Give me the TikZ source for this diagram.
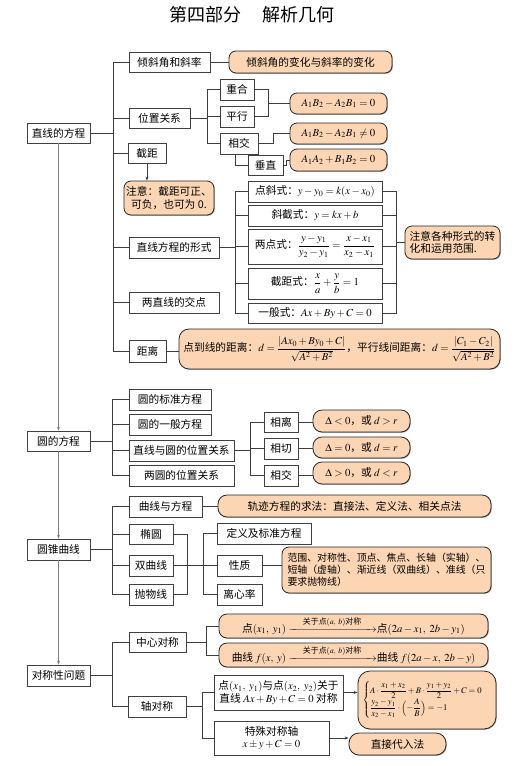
\documentclass[tikz,border=0pt]{standalone}
\usepackage{amsmath}
\usepackage{mathptmx}
\usepackage[no-math]{fontspec}
\setmainfont{Noto Sans CJK SC}
\usetikzlibrary{shadows,arrows.meta}
\definecolor{peach}{RGB}{252,213,180}
\definecolor{ln}{RGB}{60,60,60}
\begin{document}
\begin{tikzpicture}[x=1pt,y=-1pt,
 bx/.style={draw=black!75, line width=0.6pt, fill=white, inner sep=1pt,
   drop shadow={shadow xshift=0.9pt,shadow yshift=-0.9pt,fill=black!40,opacity=1},
   font=\fontsize{10.7}{12.5}\selectfont},
 rb/.style={draw=black!85, line width=0.8pt, fill=peach, rounded corners=7pt, inner sep=1pt,
   drop shadow={shadow xshift=0.8pt,shadow yshift=-0.8pt,fill=black!35,opacity=1},
   font=\fontsize{10.7}{12.5}\selectfont},
 conn/.style={draw=ln, line width=0.7pt},
 trunk/.style={draw=gray, line width=1.1pt, -{Stealth[length=4pt,width=3pt]}},
 arr/.style={conn, -{Stealth[length=4pt,width=3pt]}}
]
\useasboundingbox (0,0) rectangle (519,766);
\node[font=\fontsize{18}{20}\selectfont] (title) at (252,15) {第四部分\hspace{22pt}解析几何};

% ---------- section 1
\node[bx,minimum width=63pt,minimum height=20pt] (zxfc) at (58.5,133) {直线的方程};
\node[bx,minimum width=81pt,minimum height=20pt] (qxj) at (169.5,62) {倾斜角和斜率};
\node[rb,minimum width=163pt,minimum height=22pt] (qxjR) at (310.5,62) {倾斜角的变化与斜率的变化};
\node[bx,minimum width=61pt,minimum height=20pt] (wzgx) at (159.5,118) {位置关系};
\node[bx,minimum width=34pt,minimum height=21pt] (ch) at (237,89.5) {重合};
\node[bx,minimum width=34pt,minimum height=21pt] (px) at (237,116.5) {平行};
\node[bx,minimum width=38pt,minimum height=21pt] (xj) at (239,143.5) {相交};
\node[bx,minimum width=35pt,minimum height=20pt] (cz) at (265.5,165) {垂直};
\node[rb,minimum width=97pt,minimum height=21pt] (r1) at (338.5,103.5) {$A_1B_2-A_2B_1=0$};
\node[rb,minimum width=97pt,minimum height=21pt] (r2) at (338.5,133.5) {$A_1B_2-A_2B_1\neq 0$};
\node[rb,minimum width=97pt,minimum height=22pt] (r3) at (338.5,160) {$A_1A_2+B_1B_2=0$};
\node[bx,minimum width=38pt,minimum height=20pt] (jj) at (147,153) {截距};
\node[rb,minimum width=90pt,minimum height=34pt,align=center] (zy) at (169,198) {注意：截距可正、\\可负，也可为 0.};
\node[bx,minimum width=90pt,minimum height=21pt] (fs) at (174,247.5) {直线方程的形式};
\node[bx,minimum width=134pt,minimum height=21pt] (dxs) at (315,191.5) {点斜式：$y-y_0=k(x-x_0)$};
\node[bx,minimum width=134pt,minimum height=21pt] (xjs) at (315,215.5) {斜截式：$y=kx+b$};
\node[bx,minimum width=134pt,minimum height=35pt] (ldss) at (315,246.5) {两点式：$\dfrac{y-y_1}{y_2-y_1}=\dfrac{x-x_1}{x_2-x_1}$};
\node[bx,minimum width=134pt,minimum height=31pt] (jjs) at (315,283.5) {截距式：$\dfrac{x}{a}+\dfrac{y}{b}=1$};
\node[bx,minimum width=134pt,minimum height=20pt] (ybs) at (315,313) {一般式：$Ax+By+C=0$};
\node[rb,minimum width=95pt,minimum height=33pt,align=left] (gz) at (452.5,242.5) {注意各种形式的转\\化和运用范围.};
\node[bx,minimum width=90pt,minimum height=21pt] (jd) at (174,302.5) {两直线的交点};
\node[bx,minimum width=37pt,minimum height=22pt] (jl) at (147.5,351) {距离};
\node[rb,minimum width=321pt,minimum height=40pt,rounded corners=10pt] (jlR) at (339.5,349) {点到线的距离：$d=\dfrac{|Ax_0+By_0+C|}{\sqrt{A^2+B^2}}$，平行线间距离：$d=\dfrac{|C_1-C_2|}{\sqrt{A^2+B^2}}$};

% ---------- section 2
\node[bx,minimum width=63pt,minimum height=20pt] (yfc) at (58.5,441) {圆的方程};
\node[bx,minimum width=82pt,minimum height=21pt] (bz) at (170,399.5) {圆的标准方程};
\node[bx,minimum width=82pt,minimum height=21pt] (yb) at (170,424.5) {圆的一般方程};
\node[bx,minimum width=105pt,minimum height=21pt] (zxy) at (181.5,450.5) {直线与圆的位置关系};
\node[bx,minimum width=105pt,minimum height=21pt] (ly) at (181.5,475.5) {两圆的位置关系};
\node[bx,minimum width=34pt,minimum height=20pt] (xl) at (281,422) {相离};
\node[bx,minimum width=34pt,minimum height=21pt] (xq) at (281,448.5) {相切};
\node[bx,minimum width=34pt,minimum height=21pt] (xj2) at (281,475.5) {相交};
\node[rb,minimum width=97pt,minimum height=22pt,rounded corners=9pt] (d1) at (361.5,421) {$\Delta<0$，或 $d>r$};
\node[rb,minimum width=97pt,minimum height=21pt,rounded corners=9pt] (d2) at (361.5,447.5) {$\Delta=0$，或 $d=r$};
\node[rb,minimum width=97pt,minimum height=22pt,rounded corners=9pt] (d3) at (361.5,473) {$\Delta>0$，或 $d<r$};

% ---------- section 3
\node[bx,minimum width=63pt,minimum height=21pt] (yzqx) at (58.5,549.5) {圆锥曲线};
\node[bx,minimum width=73pt,minimum height=21pt] (qxfc) at (165.5,506.5) {曲线与方程};
\node[rb,minimum width=273pt,minimum height=22pt,rounded corners=9pt] (gj) at (354.5,506) {轨迹方程的求法：直接法、定义法、相关点法};
\node[bx,minimum width=44pt,minimum height=20pt] (ty) at (151,534) {椭圆};
\node[bx,minimum width=44pt,minimum height=21pt] (sqx) at (151,565.5) {双曲线};
\node[bx,minimum width=44pt,minimum height=21pt] (pwx) at (151,594.5) {抛物线};
\node[bx,minimum width=94pt,minimum height=21pt] (dy) at (264,533.5) {定义及标准方程};
\node[bx,minimum width=45pt,minimum height=21pt] (xz) at (239.5,565.5) {性质};
\node[bx,minimum width=45pt,minimum height=21pt] (lxl) at (239.5,594.5) {离心率};
\node[rb,minimum width=209pt,minimum height=46pt,align=left,font=\fontsize{9.9}{12.2}\selectfont] (fw) at (386.5,570) {范围、对称性、顶点、焦点、长轴（实轴）、\\短轴（虚轴）、渐近线（双曲线）、准线（只\\要求抛物线）};

% ---------- section 4
\node[bx,minimum width=63pt,minimum height=21pt] (dcx) at (58.5,675.5) {对称性问题};
\node[bx,minimum width=57pt,minimum height=20pt] (zxdc) at (157.5,642) {中心对称};
\node[bx,minimum width=58pt,minimum height=21pt] (zdc) at (157,706.5) {轴对称};
\node[rb,minimum width=269pt,minimum height=24pt,rounded corners=8pt] (c1) at (353.5,626) {点$(x_1,\ y_1)$\ $\xrightarrow{\hspace{12pt}\text{关于点}(a,\ b)\text{对称}\hspace{12pt}}$点$(2a-x_1,\ 2b-y_1)$};
\node[rb,minimum width=269pt,minimum height=24pt,rounded corners=8pt] (c2) at (353.5,655) {曲线 $f(x,\ y)$\ $\xrightarrow{\hspace{12pt}\text{关于点}(a,\ b)\text{对称}\hspace{12pt}}$曲线 $f(2a-x,\ 2b-y)$};
\node[bx,minimum width=129pt,minimum height=35pt,align=center] (zd) at (278.5,692.5) {点$(x_1,\ y_1)$与点$(x_2,\ y_2)$关于\\直线 $Ax+By+C=0$ 对称};
\node[bx,minimum width=115pt,minimum height=34pt,align=center] (ts) at (271.5,738) {特殊对称轴\\$x\pm y+C=0$};
\node[rb,minimum width=138pt,minimum height=58pt,rounded corners=12pt,font=\fontsize{8.6}{10}\selectfont] (br) at (427,700) {$\begin{cases} A\cdot\dfrac{x_1+x_2}{2}+B\cdot\dfrac{y_1+y_2}{2}+C=0\\[2pt] \dfrac{y_2-y_1}{x_2-x_1}\cdot\Bigl(-\dfrac{A}{B}\Bigr)=-1\end{cases}$};
\node[rb,minimum width=97pt,minimum height=22pt,rounded corners=10pt] (zjdr) at (397.5,744) {直接代入法};

% ---------- trunk
\draw[trunk] (zxfc.south) -- (yfc.north);
\draw[trunk] (yfc.south) -- (yzqx.north);
\draw[trunk] (yzqx.south) -- (dcx.north);

% ---------- connectors section 1
\coordinate (s1) at (113,0);
\draw[conn] (qxj.west) -- (qxj.west -| s1) -- (jl.west -| s1) -- (jl.west);
\foreach \n in {wzgx,jj,fs,jd} \draw[conn] (\n.west -| s1) -- (\n.west);
\draw[conn] (zxfc.east) -- (zxfc.east -| s1);
\draw[conn] (qxj.east) -- (qxj.east -| qxjR.west);
\coordinate (s2) at (207,0);
\draw[conn] (wzgx.east) -- (wzgx.east -| s2);
\draw[conn] (ch.west) -- (ch.west -| s2) -- (xj.west -| s2) -- (xj.west);
\draw[conn] (px.west) -- (px.west -| s2);
\coordinate (s3) at (268,0);
\draw[conn] (ch.east) -- (ch.east -| s3) -- (px.east -| s3) -- (px.east);
\draw[conn] (r1.west -| s3) -- (r1.west);
\draw[conn] (xj.east) -- ++(15,0) |- (r2.west);
\coordinate (s4) at (235,0);
\draw[conn] (xj.south -| s4) |- (cz.west);
\draw[conn] (cz.east) -- ++(3,0) |- (r3.west);
\draw[arr] (jj.south) -- (jj.south |- zy.north);
\coordinate (s5) at (235,0);
\draw[conn] (fs.east) -- (fs.east -| s5);
\draw[conn] (dxs.west) -- (dxs.west -| s5) -- (ybs.west -| s5) -- (ybs.west);
\foreach \n in {xjs,ldss,jjs} \draw[conn] (\n.west -| s5) -- (\n.west);
\coordinate (s6) at (396,0);
\draw[conn] (dxs.east) -- (dxs.east -| s6) -- (ybs.east -| s6) -- (ybs.east);
\foreach \n in {xjs,ldss,jjs} \draw[conn] (\n.east) -- (\n.east -| s6);
\draw[conn] (gz.west -| s6) -- (gz.west);
\draw[conn] (jl.east) -- (jl.east -| jlR.west);

% ---------- connectors section 2
\coordinate (t1) at (112,0);
\draw[conn] (bz.west) -- (bz.west -| t1) -- (ly.west -| t1) -- (ly.west);
\foreach \n in {yb,zxy} \draw[conn] (\n.west -| t1) -- (\n.west);
\draw[conn] (yfc.east) -- (yfc.east -| t1);
\coordinate (t2) at (250,0);
\draw[conn] (zxy.east) -- (zxy.east -| t2);
\draw[conn] (xl.west) -- (xl.west -| t2) -- (xj2.west -| t2) -- (xj2.west);
\draw[conn] (xq.west -| t2) -- (xq.west);
\draw[conn] (xl.east) -- (xl.east -| d1.west);
\draw[conn] (xq.east) -- (xq.east -| d2.west);
\draw[conn] (xj2.east) -- (xj2.east -| d3.west);

% ---------- connectors section 3
\coordinate (u1) at (112,0);
\draw[conn] (qxfc.west) -- (qxfc.west -| u1) -- (pwx.west -| u1) -- (pwx.west);
\foreach \n in {ty,sqx} \draw[conn] (\n.west -| u1) -- (\n.west);
\draw[conn] (yzqx.east) -- (yzqx.east -| u1);
\draw[conn] (qxfc.east) -- (qxfc.east -| gj.west);
\coordinate (u2) at (187,0);
\draw[conn] (ty.east) -- (ty.east -| u2) -- (pwx.east -| u2) -- (pwx.east);
\draw[conn] (sqx.east) -- (xz.west);
\coordinate (u3) at (203,0);
\draw[conn] (dy.west) -- (dy.west -| u3) -- (lxl.west -| u3) -- (lxl.west);
\draw[conn] (xz.east) -- (xz.east -| fw.west);

% ---------- connectors section 4
\coordinate (v1) at (112,0);
\draw[conn] (zxdc.west) -- (zxdc.west -| v1) -- (zdc.west -| v1) -- (zdc.west);
\draw[conn] (dcx.east) -- (dcx.east -| v1);
\coordinate (v2) at (206,0);
\draw[conn] (zxdc.east) -- (zxdc.east -| v2);
\draw[conn] (c1.west) -- (c1.west -| v2) -- (c2.west -| v2) -- (c2.west);
\coordinate (v3) at (202,0);
\draw[conn] (zdc.east) -- (zdc.east -| v3);
\draw[conn] (zd.west) -- (zd.west -| v3) -- (ts.west -| v3) -- (ts.west);
\draw[arr] (zd.east) -- (zd.east -| br.west);
\draw[arr] (ts.east) -- (ts.east -| zjdr.west);
\end{tikzpicture}
\end{document}
